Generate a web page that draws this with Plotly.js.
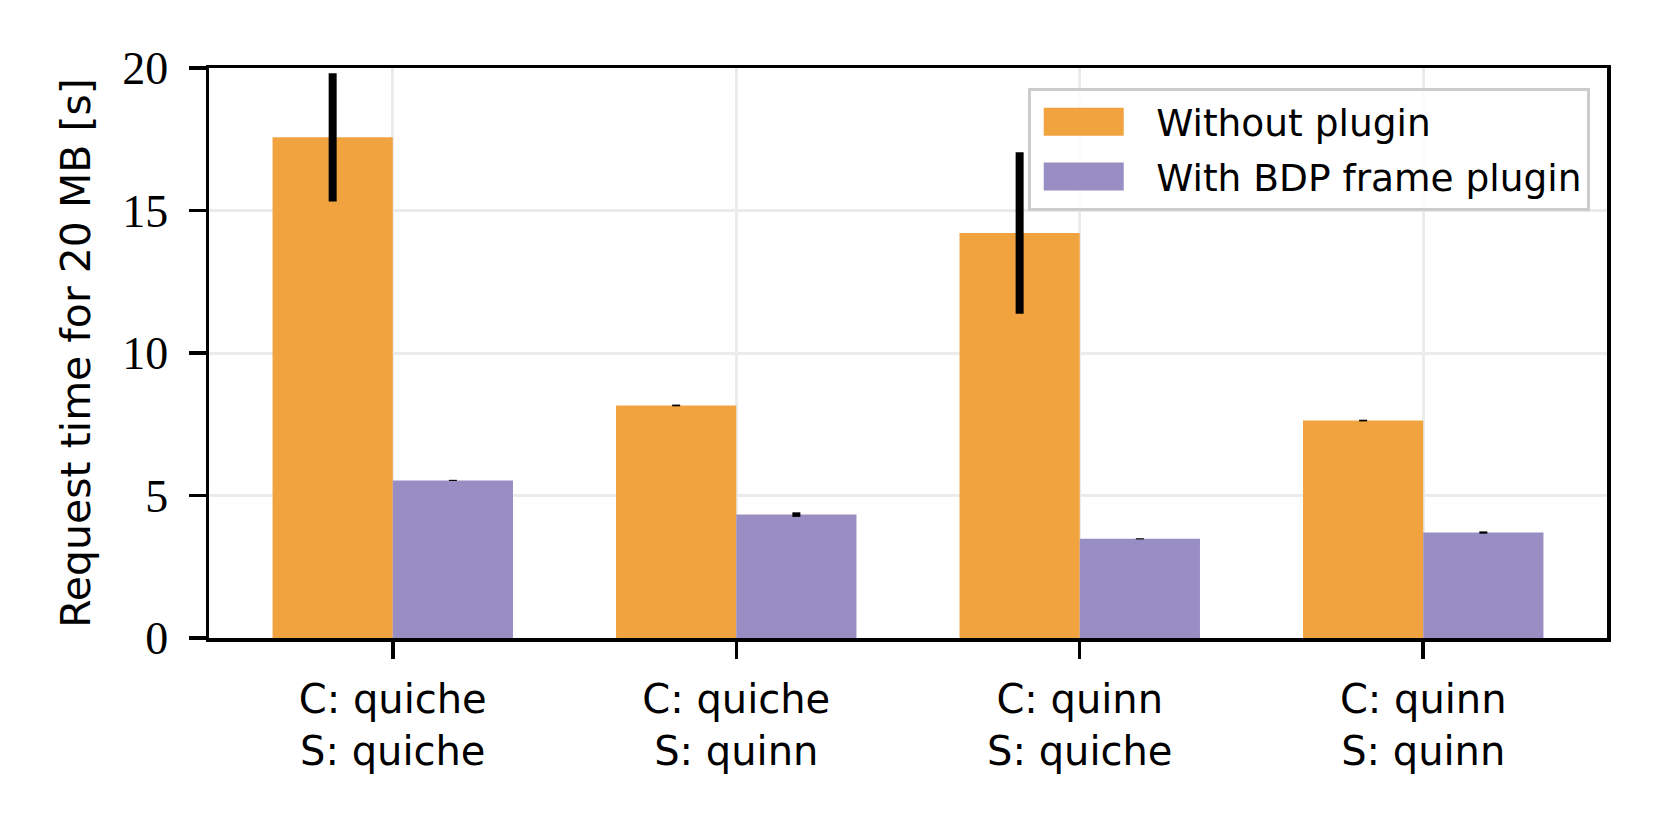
<!DOCTYPE html>
<html>
<head>
<meta charset="utf-8">
<script src="https://cdn.plot.ly/plotly-3.0.1.min.js"></script>
<style>
html, body { margin: 0; padding: 0; background: #fff; }
#chart { width: 1659px; height: 821px; }
</style>
</head>
<body>
<div id="chart"></div>
<script>
const categories = ["C: quiche<br>S: quiche", "C: quiche<br>S: quinn", "C: quinn<br>S: quiche", "C: quinn<br>S: quinn"];
const seriesNames = ["Without plugin", "With BDP frame plugin"];
const withoutPlugin = [17.57, 8.16, 14.21, 7.63];
const withoutPluginErr = [2.25, 0.03, 2.83, 0.03];
const withPlugin = [5.53, 4.33, 3.48, 3.70];
const withPluginErr = [0.02, 0.08, 0.02, 0.04];
const yTicks = [0, 5, 10, 15, 20];

const colors = ["#f1a340", "#998ec3"];

const traces = [
  {
    type: "bar", name: seriesNames[0], x: categories, y: withoutPlugin,
    width: 0.35, offset: -0.35,
    marker: { color: colors[0], line: { width: 0 } },
    error_y: { type: "data", array: withoutPluginErr, visible: true, color: "#000", thickness: 8, width: 0 },
    legendgroup: "a"
  },
  {
    type: "bar", name: seriesNames[1], x: categories, y: withPlugin,
    width: 0.35, offset: 0,
    marker: { color: colors[1], line: { width: 0 } },
    error_y: { type: "data", array: withPluginErr, visible: true, color: "#000", thickness: 8, width: 0 },
    legendgroup: "b"
  }
];

const layout = {
  width: 1659, height: 821,
  margin: { l: 209, r: 52, t: 68, b: 183, autoexpand: false },
  paper_bgcolor: "#fff", plot_bgcolor: "#fff",
  showlegend: true,
  barmode: "overlay",
  legend: {
    x: 0.988, y: 0.965, xanchor: "right", yanchor: "top",
    bgcolor: "rgba(255,255,255,0.8)", bordercolor: "#cccccc", borderwidth: 3,
    font: { family: "DejaVu Sans", size: 37.5, color: "#000" },
    itemwidth: 115, traceorder: "grouped", tracegroupgap: 3
  },
  xaxis: {
    type: "category", range: [-0.535, 3.535],
    showline: true, linecolor: "#000", linewidth: 3.5, mirror: true,
    ticks: "outside", ticklen: 17, tickwidth: 3.5, tickcolor: "#000",
    showgrid: true, gridcolor: "#ebebeb", gridwidth: 3,
    tickfont: { family: "DejaVu Sans", size: 40, color: "#000" },
    ticklabelstandoff: 6,
    automargin: false, zeroline: false, fixedrange: true
  },
  yaxis: {
    range: [0, 20], tickvals: yTicks, ticktext: yTicks.map(String),
    showline: true, linecolor: "#000", linewidth: 3.5, mirror: true,
    ticks: "outside", ticklen: 17, tickwidth: 3.5, tickcolor: "#000",
    showgrid: true, gridcolor: "#ebebeb", gridwidth: 3,
    zeroline: false,
    tickfont: { family: "Liberation Serif", size: 46, color: "#000" },
    ticklabelstandoff: 11,
    title: { text: "Request time for 20 MB [s]", font: { family: "DejaVu Sans", size: 41, color: "#000" }, standoff: 20 },
    automargin: false, fixedrange: true
  }
};

Plotly.newPlot("chart", traces, layout, { displayModeBar: false, staticPlot: true }).then(function (gd) {
  // enlarge legend swatches to match the reference's wide rectangles
  gd.querySelectorAll(".legend .traces .legendpoints path").forEach(function (p) {
    p.setAttribute("d", "M30,14H-50V-14H30Z");
  });
});
</script>
</body>
</html>
